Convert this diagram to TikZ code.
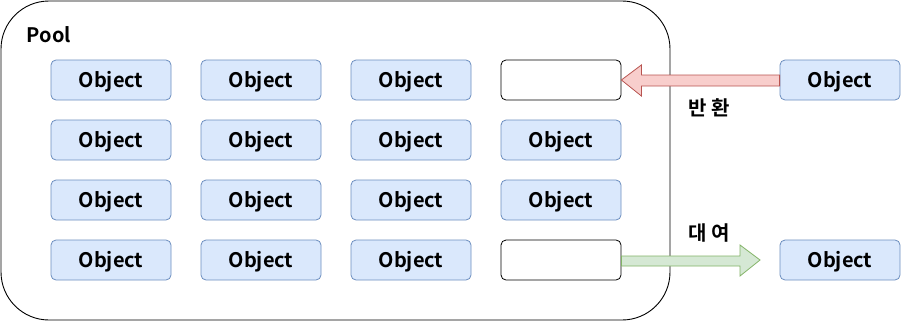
\documentclass[tikz,border=0pt]{standalone}
\usepackage{fontspec}
\setmainfont{Noto Sans CJK KR}[BoldFont={* Bold}]
\usetikzlibrary{calc}
\definecolor{objfill}{HTML}{DAE8FC}
\definecolor{objline}{HTML}{6C8EBF}
\definecolor{retfill}{HTML}{F8CECC}
\definecolor{retline}{HTML}{B85450}
\definecolor{lendfill}{HTML}{D5E8D4}
\definecolor{lendline}{HTML}{82B366}
\begin{document}
\begin{tikzpicture}[x=1pt,y=-1pt,
  every node/.style={font=\fontsize{20}{22}\selectfont\bfseries, inner sep=0pt, text height=14.7pt, text depth=0pt},
  objbox/.style={draw=objline, fill=objfill, rounded corners=5pt, minimum width=120pt, minimum height=40pt, line width=0.8pt},
  emptybox/.style={draw=black, fill=white, rounded corners=5pt, minimum width=120pt, minimum height=40pt, line width=0.8pt},
  retarrow/.style={draw=retline, fill=retfill, line width=0.8pt},
  lendarrow/.style={draw=lendline, fill=lendfill, line width=0.8pt}]
\useasboundingbox (0,0) rectangle (901,321);
\draw[rounded corners=48pt, line width=0.9pt] (1,1) rectangle (670,320);
\node (pool) at (49,35) {Pool};
% grid
\foreach \r/\y in {1/80,2/140,3/200,4/260}{
  \foreach \c/\x in {1/111,2/261,3/411}{
    \node[objbox] (o\r\c) at (\x,\y) {Object};
  }
}
\node[emptybox] (o14) at (561,80) {};
\node[objbox] (o24) at (561,140) {Object};
\node[objbox] (o34) at (561,200) {Object};
\node[emptybox] (o44) at (561,260) {};
\node[objbox] (r1) at (840,80) {Object};
\node[objbox] (r2) at (840,260) {Object};
% return arrow
\draw[retarrow] (o14.east) -- ($(o14.east)+(20,-15)$) -- ($(o14.east)+(20,-5)$)
  -- ($(r1.west)+(0,-5)$) -- ($(r1.west)+(0,6)$) -- ($(o14.east)+(20,6)$)
  -- ($(o14.east)+(20,16)$) -- cycle;
% lend arrow
\coordinate (lendtip) at (760,260);
\draw[lendarrow] ($(o44.east)+(0,-4)$) -- ($(lendtip)+(-20,-4)$) -- ($(lendtip)+(-20,-15)$)
  -- (lendtip) -- ($(lendtip)+(-20,16)$) -- ($(lendtip)+(-20,6)$) -- ($(o44.east)+(0,6)$) -- cycle;
\node (ret) at (709,108) {반 환};
\node (lend) at (709,233) {대 여};
\end{tikzpicture}
\end{document}
